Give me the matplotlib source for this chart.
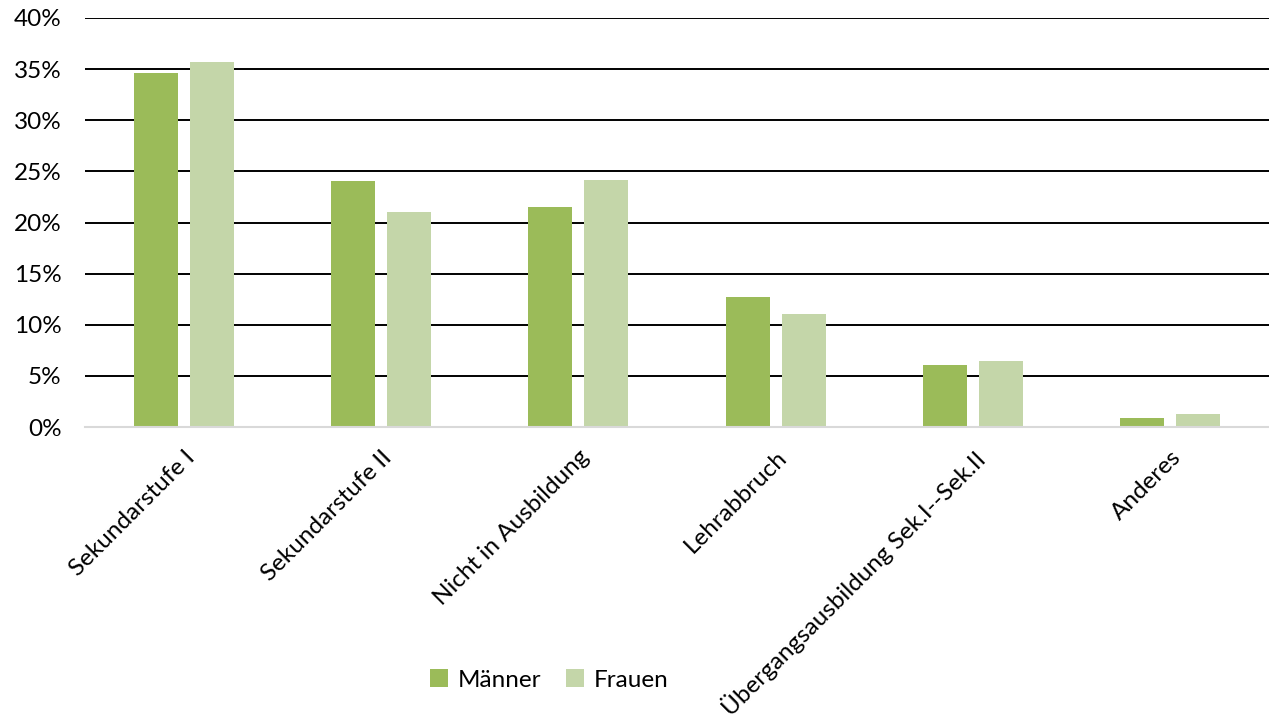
import matplotlib.pyplot as plt
import numpy as np
from matplotlib.ticker import PercentFormatter

plt.rcParams['font.family'] = ['Lato', 'DejaVu Sans']

categories = ['Sekundarstufe I', 'Sekundarstufe II', 'Nicht in Ausbildung',
              'Lehrabbruch', 'Übergangsausbildung Sek.I--Sek.II', 'Anderes']
maenner = [34.6, 24.1, 21.5, 12.7, 6.1, 0.9]
frauen = [35.7, 21.0, 24.2, 11.1, 6.5, 1.3]

x = np.arange(len(categories))
w = 0.223
off = 0.142

fig = plt.figure(figsize=(12.69, 7.17), dpi=100)
ax = fig.add_axes([85 / 1269, 1 - 427 / 717, 1 - 85 / 1269, 409 / 717])

ax.bar(x - off, maenner, w, color='#9BBB59', label='Männer', zorder=3)
ax.bar(x + off, frauen, w, color='#C4D6A9', label='Frauen', zorder=3)

ax.set_xlim(-0.5, 5.5)
ax.set_ylim(0, 40)
ax.set_yticks(range(0, 41, 5))
ax.yaxis.set_major_formatter(PercentFormatter(decimals=0))
ax.yaxis.grid(True, color='black', linewidth=1.4, zorder=0)
ax.set_axisbelow(True)

for s in ['top', 'right', 'left']:
    ax.spines[s].set_visible(False)
ax.spines['bottom'].set_color('#D9D9D9')
ax.spines['bottom'].set_linewidth(1.5)
ax.spines['bottom'].set_zorder(4)

ax.tick_params(axis='both', length=0, labelsize=17.5, colors='black')
ax.tick_params(axis='y', pad=17)
ax.set_xticks(x)
ax.set_xticklabels(categories, rotation=45, ha='right', rotation_mode='anchor')
ax.tick_params(axis='x', pad=14)

fig.legend(loc='lower center', bbox_to_anchor=(0.433, 0.006), ncol=2, frameon=False,
           fontsize=17.5, handlelength=0.75, handleheight=0.75, handletextpad=0.4,
           columnspacing=1.0)

fig.savefig('out.png', dpi=100)
